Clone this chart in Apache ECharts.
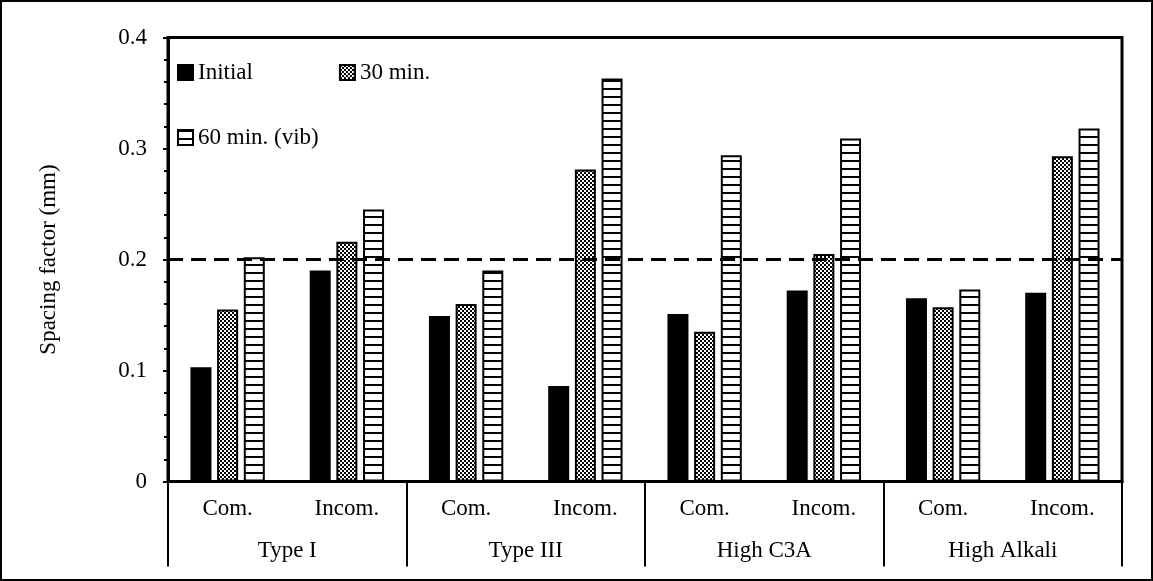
<!DOCTYPE html>
<html>
<head>
<meta charset="utf-8">
<script src="https://cdn.jsdelivr.net/npm/echarts@6/dist/echarts.min.js"></script>
<style>
  html, body { margin: 0; padding: 0; background: #fff; }
  #chart { width: 1153px; height: 581px; }
</style>
</head>
<body>
<div id="chart"></div>
<script>
// Mix condition under each bar group, and the cement type spanning each pair
const mixConditions = ['Com.', 'Incom.', 'Com.', 'Incom.', 'Com.', 'Incom.', 'Com.', 'Incom.'];
const cementTypes = ['Type I', 'Type III', 'High C3A', 'High Alkali'];

// Spacing factor (mm) at each sampling time
const initialValues = [0.103, 0.190, 0.149, 0.086, 0.151, 0.172, 0.165, 0.170];
const min30Values   = [0.155, 0.216, 0.160, 0.281, 0.135, 0.205, 0.157, 0.293];
const min60Values   = [0.202, 0.245, 0.190, 0.363, 0.294, 0.309, 0.173, 0.318];

const seriesNames = ['Initial', '30 min.', '60 min. (vib)'];

// Value axis range and recommended spacing factor limit
const yMin = 0, yMax = 0.4, yStep = 0.1;
const spacingLimit = 0.2;

const FONT = 'Liberation Serif, Times New Roman, serif';

// Fine checkerboard fill
function checkerPattern() {
  const c = document.createElement('canvas');
  c.width = 4; c.height = 4;
  const g = c.getContext('2d');
  g.fillStyle = '#fff'; g.fillRect(0, 0, 4, 4);
  g.fillStyle = '#000';
  g.fillRect(0, 0, 2, 2);
  g.fillRect(2, 2, 2, 2);
  return c;
}
// Horizontal stripe fill
function stripePattern() {
  const c = document.createElement('canvas');
  c.width = 8; c.height = 8;
  const g = c.getContext('2d');
  g.fillStyle = '#fff'; g.fillRect(0, 0, 8, 8);
  g.fillStyle = '#000'; g.fillRect(0, 0, 8, 2);
  return c;
}

const chart = echarts.init(document.getElementById('chart'), null, { renderer: 'canvas' });

const barBase = { type: 'bar', barWidth: 21, barGap: '27%', xAxisIndex: 0 };

chart.setOption({
  animation: false,
  backgroundColor: '#fff',
  textStyle: { fontFamily: FONT, color: '#000' },
  graphic: [{
    type: 'rect', silent: true, z: 100,
    shape: { x: 1, y: 1, width: 1151, height: 579 },
    style: { fill: null, stroke: '#000', lineWidth: 2 }
  }],
  grid: {
    left: 168, right: 31, top: 37.5, bottom: 99.5,
    show: true, borderColor: '#000', borderWidth: 3, backgroundColor: 'transparent'
  },
  legend: [
    {
      data: [seriesNames[0], seriesNames[1]],
      left: 177, top: 61, padding: 0, itemGap: 86,
      itemWidth: 15, itemHeight: 15, icon: 'rect',
      textStyle: { fontFamily: FONT, fontSize: 23, color: '#000' }
    },
    {
      data: [seriesNames[2]],
      left: 177, top: 126, padding: 0,
      itemWidth: 15, itemHeight: 15, icon: 'rect',
      textStyle: { fontFamily: FONT, fontSize: 23, color: '#000' }
    }
  ],
  xAxis: [
    {
      type: 'category', data: mixConditions, position: 'bottom',
      axisLine: { show: true, lineStyle: { color: '#000', width: 3 } },
      axisTick: { show: false },
      axisLabel: { margin: 16, fontFamily: FONT, fontSize: 23, color: '#000' },
      splitLine: { show: false }
    },
    {
      type: 'category', data: cementTypes, position: 'bottom', offset: 0,
      axisLine: { show: false },
      axisTick: { show: true, length: 85, lineStyle: { color: '#000', width: 2 } },
      axisLabel: { margin: 58, fontFamily: FONT, fontSize: 23, color: '#000' },
      splitLine: { show: false }
    }
  ],
  yAxis: {
    type: 'value', min: yMin, max: yMax, interval: yStep,
    name: 'Spacing factor (mm)', nameLocation: 'middle', nameGap: 108, nameRotate: 90,
    nameTextStyle: { fontFamily: FONT, fontSize: 23, color: '#000' },
    axisLine: { show: true, lineStyle: { color: '#000', width: 3 } },
    axisTick: { show: true, length: 5, lineStyle: { color: '#000', width: 2 } },
    minorTick: { show: true, splitNumber: 5, length: 4, lineStyle: { color: '#000', width: 2 } },
    axisLabel: { margin: 21, fontFamily: FONT, fontSize: 23, color: '#000' },
    splitLine: { show: false }
  },
  series: [
    Object.assign({}, barBase, {
      name: seriesNames[0], data: initialValues,
      itemStyle: { color: '#000', borderColor: '#000', borderWidth: 2 }
    }),
    Object.assign({}, barBase, {
      name: seriesNames[1], data: min30Values,
      itemStyle: { color: { image: checkerPattern(), repeat: 'repeat' }, borderColor: '#000', borderWidth: 2 }
    }),
    Object.assign({}, barBase, {
      name: seriesNames[2], data: min60Values,
      itemStyle: { color: { image: stripePattern(), repeat: 'repeat' }, borderColor: '#000', borderWidth: 2 },
      markLine: {
        silent: true, symbol: 'none', label: { show: false },
        lineStyle: { color: '#000', width: 3, type: [15, 8] },
        data: [{ yAxis: spacingLimit }]
      }
    })
  ]
});
</script>
</body>
</html>
